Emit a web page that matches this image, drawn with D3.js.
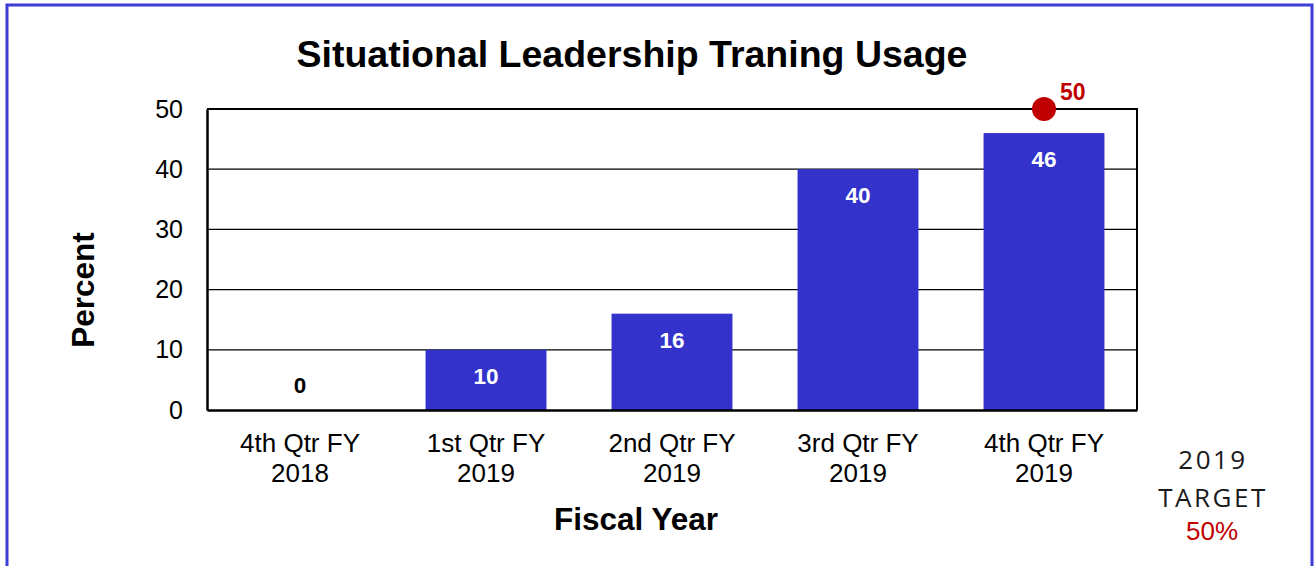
<!DOCTYPE html>
<html>
<head>
<meta charset="utf-8">
<script src="https://cdn.jsdelivr.net/npm/d3@7"></script>
<style>
  html, body { margin: 0; padding: 0; background: #fff; }
  svg { display: block; }
  text { font-family: "Liberation Sans", Arial, sans-serif; }
</style>
</head>
<body>
<svg id="chart" width="1315" height="566"></svg>
<script>
// Quarterly usage of the situational leadership training (percent)
const categories = [
  ["4th Qtr FY", "2018"],
  ["1st Qtr FY", "2019"],
  ["2nd Qtr FY", "2019"],
  ["3rd Qtr FY", "2019"],
  ["4th Qtr FY", "2019"]
];
const values = [0, 10, 16, 40, 46];
const targetValue = 50;
const targetIndex = 4;
const yTicks = [0, 10, 20, 30, 40, 50];

const svg = d3.select("#chart");
const m = { left: 207, right: 1137, top: 109, bottom: 410 };
const FONT = "'Liberation Sans', Arial, sans-serif";

// outer frame
svg.append("rect")
  .attr("x", 7).attr("y", 5)
  .attr("width", 1305).attr("height", 600)
  .attr("fill", "none")
  .attr("stroke", "#3c3cd6")
  .attr("stroke-width", 3);

const x = d3.scaleBand()
  .domain(categories.map((d, i) => i))
  .range([m.left, m.right])
  .paddingInner(0.35)
  .paddingOuter(0.175);

const y = d3.scaleLinear().domain([0, 50]).range([m.bottom, m.top]);

// gridlines
svg.append("g")
  .selectAll("line")
  .data(yTicks.filter(t => t > 0))
  .join("line")
  .attr("x1", m.left).attr("x2", m.right)
  .attr("y1", d => y(d)).attr("y2", d => y(d))
  .attr("stroke", "#000").attr("stroke-width", 1.3);

// bars
svg.append("g")
  .selectAll("rect")
  .data(values)
  .join("rect")
  .attr("x", (d, i) => x(i))
  .attr("y", d => y(d))
  .attr("width", x.bandwidth())
  .attr("height", d => y(0) - y(d))
  .attr("fill", "#3333cc");

// plot frame (right/top)
svg.append("path")
  .attr("d", `M${m.left},${m.top}H${m.right}V${m.bottom}`)
  .attr("fill", "none").attr("stroke", "#000").attr("stroke-width", 2);

// y axis
const yAxis = svg.append("g")
  .attr("transform", `translate(${m.left},0)`)
  .call(d3.axisLeft(y).tickValues(yTicks).tickSize(0).tickPadding(24));
yAxis.select(".domain").attr("stroke", "#000").attr("stroke-width", 2.5);
yAxis.selectAll("text")
  .attr("font-size", 25).attr("fill", "#000")
  .style("font-family", FONT);

// x axis
const xAxis = svg.append("g")
  .attr("transform", `translate(0,${m.bottom})`)
  .call(d3.axisBottom(x).tickSize(0).tickFormat(""));
xAxis.select(".domain").attr("stroke", "#000").attr("stroke-width", 2.5);
xAxis.selectAll(".tick").each(function(d) {
  const t = d3.select(this).append("text")
    .attr("fill", "#000")
    .attr("font-size", 26)
    .attr("text-anchor", "middle")
    .style("font-family", FONT);
  categories[d].forEach((line, k) => {
    t.append("tspan").attr("x", 0).attr("y", 42 + k * 30).text(line);
  });
});

// value labels
svg.append("g")
  .selectAll("text")
  .data(values)
  .join("text")
  .attr("x", (d, i) => x(i) + x.bandwidth() / 2)
  .attr("y", d => d === 0 ? y(0) - 17 : y(d) + 34)
  .attr("text-anchor", "middle")
  .attr("font-size", 22.5)
  .attr("font-weight", "bold")
  .attr("fill", d => d === 0 ? "#000" : "#fff")
  .text(d => d);

// target marker
const tx = x(targetIndex) + x.bandwidth() / 2;
svg.append("circle")
  .attr("cx", tx).attr("cy", y(targetValue))
  .attr("r", 12)
  .attr("fill", "#c00000");
svg.append("text")
  .attr("x", tx + 16).attr("y", y(targetValue) - 9)
  .attr("font-size", 23).attr("font-weight", "bold")
  .attr("fill", "#c00000")
  .text(targetValue);

// title
svg.append("text")
  .attr("x", 632).attr("y", 67)
  .attr("text-anchor", "middle")
  .attr("font-size", 37.5).attr("font-weight", "bold")
  .text("Situational Leadership Traning Usage");

// axis titles
svg.append("text")
  .attr("x", 636).attr("y", 530)
  .attr("text-anchor", "middle")
  .attr("font-size", 31.5).attr("font-weight", "bold")
  .text("Fiscal Year");

svg.append("text")
  .attr("transform", "translate(94,290) rotate(-90)")
  .attr("text-anchor", "middle")
  .attr("font-size", 31.5).attr("font-weight", "bold")
  .text("Percent");

// target note
const note = svg.append("g").attr("text-anchor", "middle");
note.append("text").attr("x", 1213).attr("y", 469)
  .attr("font-size", 26).attr("fill", "#1a1a1a").attr("letter-spacing", 2.5)
  .style("font-family", "'Open Sans', sans-serif").style("font-weight", 400)
  .text("2019");
note.append("text").attr("x", 1213).attr("y", 507)
  .attr("font-size", 26).attr("fill", "#1a1a1a").attr("letter-spacing", 2.5)
  .style("font-family", "'Open Sans', sans-serif").style("font-weight", 400)
  .text("TARGET");
note.append("text").attr("x", 1212).attr("y", 540)
  .attr("font-size", 26).attr("fill", "#c00000")
  .style("font-family", FONT)
  .text(targetValue + "%");
</script>
</body>
</html>
